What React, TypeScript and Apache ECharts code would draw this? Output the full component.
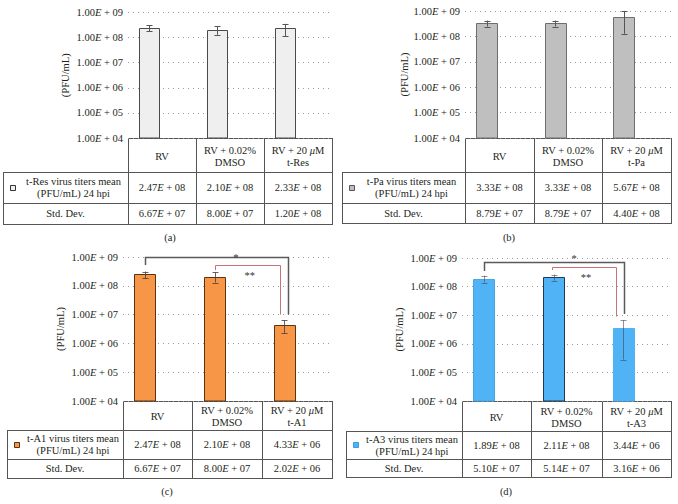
import React, { useEffect, useRef } from 'react';
import * as echarts from 'echarts';

// ---------- data ----------
const categories = ['RV', 'RV + 0.02% DMSO', 'RV + 20 μM'];
const compounds = ['t-Res', 't-Pa', 't-A1', 't-A3'];
const captions = ['(a)', '(b)', '(c)', '(d)'];
const yMin = 1e4;
const yMax = 1e9;

const meanA = [2.47e8, 2.10e8, 2.33e8];
const sdA = [6.67e7, 8.00e7, 1.20e8];
const meanB = [3.33e8, 3.33e8, 5.67e8];
const sdB = [8.79e7, 8.79e7, 4.40e8];
const meanC = [2.47e8, 2.10e8, 4.33e6];
const sdC = [6.67e7, 8.00e7, 2.02e6];
const meanD = [1.89e8, 2.11e8, 3.44e6];
const sdD = [5.10e7, 5.14e7, 3.16e6];

const rowLabelMean = 'virus titers mean\n(PFU/mL) 24 hpi';
const rowLabelSd = 'Std. Dev.';
const yAxisTitle = '(PFU/mL)';

// significance brackets (values on the log axis)
const bracketsC = [
  { from: 0, to: 2, top: 1.0e9, leftLow: 5.3e8, rightLow: 1.0e7, label: '*' },
  { from: 1, to: 2, top: 5.3e8, leftLow: 3.5e8, rightLow: 1.0e7, label: '**' },
];
const bracketsD = [
  { from: 0, to: 2, top: 7.2e8, leftLow: 3.5e8, rightLow: 1.1e7, label: '*' },
  { from: 1, to: 2, top: 4.8e8, leftLow: 3.8e8, rightLow: 9.0e6, label: '**' },
];

// ---------- styling / layout ----------
const FONT = '"Liberation Serif", "Times New Roman", serif';
const FS = 10.5;
const TXT = '#231f20';
const LINE = '#555555';
const BAR_SHIFT = 0.185;
const BAR_W = 0.3;

const panels = [
  {
    mean: meanA, sd: sdA, compound: compounds[0], caption: captions[0],
    fill: '#efefef', strokes: ['#4a4a4a', '#4a4a4a', '#4a4a4a'], legendStroke: '#333',
    err: '#555555',
    top: 12.5, tableLeft: 3, cols: [128, 196, 264, 332], rows: [138, 172, 203, 224],
    capPos: [170, 237], nameGap: 57,
    brackets: [], bStyle: [],
  },
  {
    mean: meanB, sd: sdB, compound: compounds[1], caption: captions[1],
    fill: '#bfbfbf', strokes: ['#6e6e6e', '#6e6e6e', '#6e6e6e'], legendStroke: '#555',
    err: '#555555',
    top: 11, tableLeft: 342, cols: [465, 534, 602, 671], rows: [138, 172, 203, 223],
    capPos: [509, 237], nameGap: 55,
    brackets: [], bStyle: [],
  },
  {
    mean: meanC, sd: sdC, compound: compounds[2], caption: captions[2],
    fill: '#f79646', strokes: ['#5a3312', '#5a3312', '#5a3312'], legendStroke: '#5a3312',
    err: 'rgba(70,60,60,0.8)',
    top: 257, tableLeft: 7, cols: [123, 192, 262, 332], rows: [401, 430, 459, 478],
    capPos: [167, 491], nameGap: 57,
    brackets: bracketsC,
    bStyle: [
      { color: '#5a5a5a', width: 1.5, dxFrom: 0, dxTo: 4, labelAt: 0.12, labelDy: 0 },
      { color: '#c77574', width: 1, dxFrom: 0, dxTo: -4, labelAt: 0.32, labelDy: 9.5 },
    ],
  },
  {
    mean: meanD, sd: sdD, compound: compounds[3], caption: captions[3],
    fill: '#4fb3f5', strokes: ['#47a6e6', '#1e3a55', '#4fb3f5'], legendStroke: '#3a9fe0',
    err: 'rgba(70,70,80,0.6)',
    top: 258, tableLeft: 346, cols: [462, 531, 602, 671], rows: [401, 431, 459, 477],
    capPos: [506, 491], nameGap: 57,
    brackets: bracketsD,
    bStyle: [
      { color: '#5a5a5a', width: 1.5, dxFrom: 0, dxTo: 1, labelAt: 0.11, labelDy: -4.5 },
      { color: '#c77574', width: 1, dxFrom: -2, dxTo: -7, labelAt: 0.28, labelDy: 9.5 },
    ],
  },
];

function sci(v: number): string {
  const [m, e] = v.toExponential(2).split('e');
  const n = parseInt(e, 10);
  return `${m}{i|E} + ${String(Math.abs(n)).padStart(2, '0')}`;
}

const richItalic = {
  i: { fontStyle: 'italic', fontFamily: FONT, fontSize: FS, fill: TXT, color: TXT },
};

function txt(x: number, y: number, text: string, extra: any = {}) {
  return {
    type: 'text', x, y, silent: true,
    style: {
      text, fontFamily: FONT, fontSize: FS, fill: TXT,
      align: 'center', verticalAlign: 'middle', lineHeight: 12,
      rich: {
        i: { fontStyle: 'italic', fontFamily: FONT, fontSize: FS, fill: TXT, lineHeight: 12 },
      },
      ...extra,
    },
  };
}

function tableGraphics(p: any) {
  const els: any[] = [];
  const [c0, c1, c2, c3] = p.cols;
  const [r0, r1, r2, r3] = p.rows;
  const L = p.tableLeft;
  const h = (y: number, x1: number, x2: number) => ({
    type: 'line', silent: true,
    shape: { x1, y1: y + 0.5, x2, y2: y + 0.5 },
    style: { stroke: LINE, lineWidth: 1 },
  });
  const v = (x: number, y1: number, y2: number) => ({
    type: 'line', silent: true,
    shape: { x1: x + 0.5, y1, x2: x + 0.5, y2 },
    style: { stroke: LINE, lineWidth: 1 },
  });
  els.push(h(r0, c0, c3 + 1), h(r1, L, c3 + 1), h(r2, L, c3 + 1), h(r3, L, c3 + 1));
  els.push(v(L, r1, r3 + 1), v(c0, r0, r3 + 1), v(c1, r0, r3 + 1), v(c2, r0, r3 + 1), v(c3, r0, r3 + 1));

  const cx = [(c0 + c1) / 2, (c1 + c2) / 2, (c2 + c3) / 2];
  const headers = [
    categories[0],
    categories[1].replace(' DMSO', '\nDMSO'),
    categories[2].replace('μ', '{i|μ}') + '\n' + p.compound,
  ];
  headers.forEach((t, i) => els.push(txt(cx[i], (r0 + r1) / 2 + 1, t)));

  const ym = (r1 + r2) / 2;
  els.push({
    type: 'rect', silent: true,
    shape: { x: L + 7.5, y: Math.round(ym) - 2.5, width: 5, height: 5 },
    style: { fill: p.fill, stroke: p.legendStroke, lineWidth: 1 },
  });
  els.push(txt((L + 16 + c0) / 2, ym, `${p.compound} ${rowLabelMean}`));
  els.push(txt((L + c0) / 2, (r2 + r3) / 2, rowLabelSd));
  p.mean.forEach((m: number, i: number) => els.push(txt(cx[i], ym, sci(m))));
  p.sd.forEach((s: number, i: number) => els.push(txt(cx[i], (r2 + r3) / 2, sci(s))));
  els.push(txt(p.capPos[0], p.capPos[1], p.caption));
  return els;
}

function buildOption() {
  const grid: any[] = [];
  const xAxis: any[] = [];
  const yAxis: any[] = [];
  const series: any[] = [];
  let graphic: any[] = [];

  panels.forEach((p, k) => {
    grid.push({
      left: p.cols[0], top: p.top,
      width: p.cols[3] - p.cols[0], height: p.rows[0] - p.top,
      containLabel: false,
    });
    xAxis.push({
      type: 'category', gridIndex: k, data: categories,
      axisLine: { show: false }, axisTick: { show: false },
      axisLabel: { show: false }, splitLine: { show: false },
    });
    yAxis.push({
      type: 'log', logBase: 10, gridIndex: k, min: yMin, max: yMax,
      axisLine: { show: false }, axisTick: { show: false },
      splitLine: { show: true, lineStyle: { color: '#9a9a9a', type: [1, 4], width: 1 } },
      axisLabel: {
        margin: 5, fontFamily: FONT, fontSize: FS, color: TXT,
        formatter: (val: number) => sci(val),
        rich: richItalic,
      },
      name: yAxisTitle, nameLocation: 'middle', nameGap: p.nameGap,
      nameTextStyle: { fontFamily: FONT, fontSize: FS, color: TXT },
    });

    // bars
    series.push({
      type: 'custom', xAxisIndex: k, yAxisIndex: k, clip: false,
      data: p.mean.map((m, i) => [i, m]),
      renderItem: (params: any, api: any) => {
        const i = api.value(0);
        const val = api.value(1);
        const pt = api.coord([i, val]);
        const base = api.coord([i, yMin]);
        const bw = api.coord([1, val])[0] - api.coord([0, val])[0];
        const w = Math.round(bw * BAR_W);
        const x = Math.round(pt[0] - bw * BAR_SHIFT - w / 2) + 0.5;
        const y = Math.round(pt[1]) + 0.5;
        return {
          type: 'rect',
          shape: { x, y, width: w, height: base[1] - y },
          style: { fill: p.fill, stroke: p.strokes[params.dataIndex], lineWidth: 1 },
        };
      },
    });

    // error bars
    series.push({
      type: 'custom', xAxisIndex: k, yAxisIndex: k, clip: false,
      data: p.mean.map((m, i) => [i, m + p.sd[i], m - p.sd[i]]),
      renderItem: (params: any, api: any) => {
        const i = api.value(0);
        const hi = api.coord([i, api.value(1)]);
        const lo = api.coord([i, api.value(2)]);
        const bw = api.coord([1, api.value(1)])[0] - api.coord([0, api.value(1)])[0];
        const x = Math.round(hi[0] - bw * BAR_SHIFT) + 0.5;
        const st = { stroke: p.err, lineWidth: 1 };
        return {
          type: 'group',
          children: [
            { type: 'line', shape: { x1: x, y1: hi[1], x2: x, y2: lo[1] }, style: st },
            { type: 'line', shape: { x1: x - 3, y1: Math.round(hi[1]) + 0.5, x2: x + 3, y2: Math.round(hi[1]) + 0.5 }, style: st },
            { type: 'line', shape: { x1: x - 3, y1: Math.round(lo[1]) + 0.5, x2: x + 3, y2: Math.round(lo[1]) + 0.5 }, style: st },
          ],
        };
      },
    });

    // significance brackets
    if (p.brackets.length) {
      series.push({
        type: 'custom', xAxisIndex: k, yAxisIndex: k, clip: false,
        data: p.brackets.map((b: any) => [b.from, b.top]),
        renderItem: (params: any, api: any) => {
          const b = p.brackets[params.dataIndex];
          const s = p.bStyle[params.dataIndex];
          const bw = api.coord([1, b.top])[0] - api.coord([0, b.top])[0];
          const sh = bw * BAR_SHIFT;
          const xL = Math.round(api.coord([b.from, b.top])[0] - sh + s.dxFrom) + 0.5;
          const xR = Math.round(api.coord([b.to, b.top])[0] - sh + s.dxTo) + 0.5;
          const yT = Math.round(api.coord([b.from, b.top])[1]) + 0.5;
          const yL = api.coord([b.from, b.leftLow])[1];
          const yR = api.coord([b.to, b.rightLow])[1];
          const lx = api.coord([1, b.top])[0] + bw * s.labelAt;
          return {
            type: 'group',
            children: [
              {
                type: 'polyline',
                shape: { points: [[xL, yL], [xL, yT], [xR, yT], [xR, yR]] },
                style: { stroke: s.color, lineWidth: s.width, fill: 'none' },
              },
              {
                type: 'text', x: lx, y: yT + s.labelDy,
                style: {
                  text: b.label, fontFamily: FONT, fontSize: FS, fill: '#333',
                  align: 'center', verticalAlign: 'middle',
                },
              },
            ],
          };
        },
      });
    }

    graphic = graphic.concat(tableGraphics(p));
  });

  return {
    animation: false,
    backgroundColor: '#ffffff',
    textStyle: { fontFamily: FONT },
    grid, xAxis, yAxis, series, graphic,
  };
}

export default function App() {
  const ref = useRef<HTMLDivElement>(null);
  useEffect(() => {
    document.body.style.margin = '0';
    if (!ref.current) return;
    const chart = echarts.init(ref.current, undefined, { renderer: 'svg' });
    chart.setOption(buildOption() as any);
    return () => chart.dispose();
  }, []);
  return <div ref={ref} style={{ width: 678, height: 504 }} />;
}
